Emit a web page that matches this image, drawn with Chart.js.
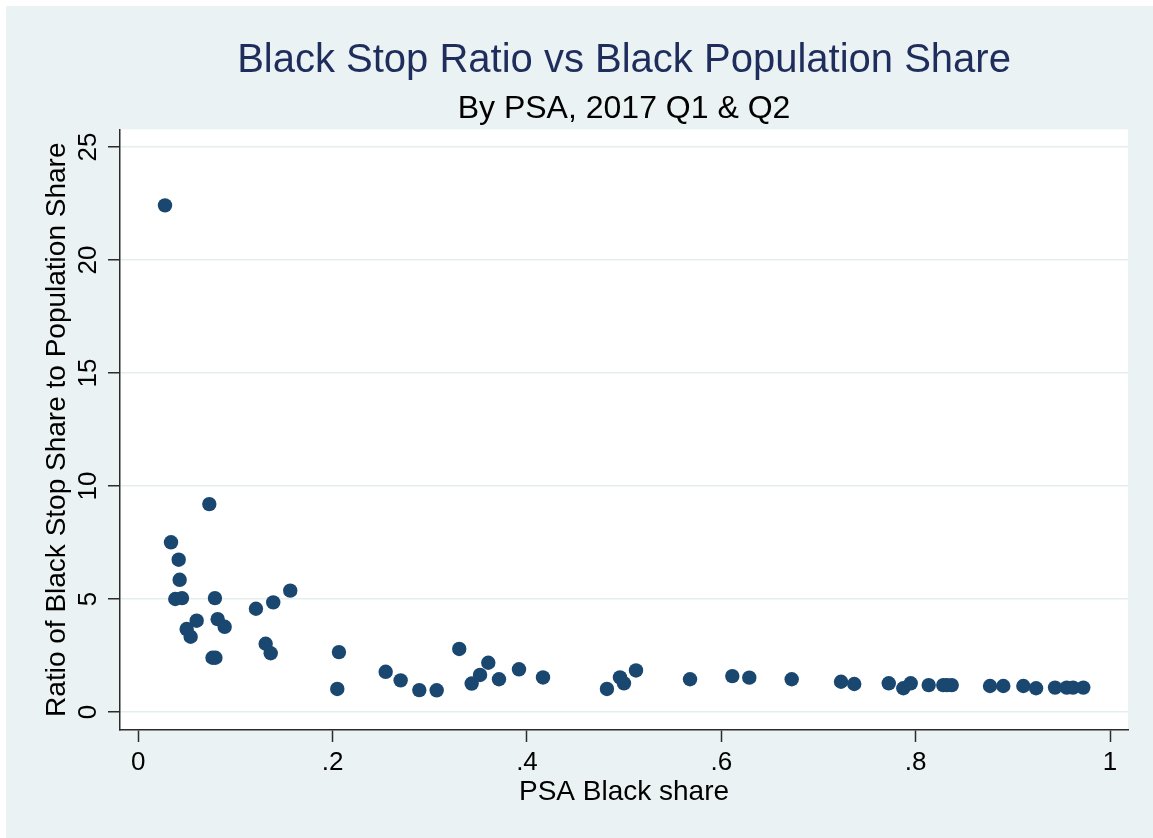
<!DOCTYPE html>
<html>
<head>
<meta charset="utf-8">
<script src="https://cdn.jsdelivr.net/npm/chart.js@4.4.1/dist/chart.umd.min.js"></script>
<style>
  html, body { margin: 0; padding: 0; background: #ffffff; }
  #wrap { width: 1153px; height: 838px; position: relative; }
</style>
</head>
<body>
<div id="wrap"><canvas id="scatterChart"></canvas></div>
<script>
// PSA black population share (x) and black stop ratio (y)
const blackShare = [
    0.0275, 0.0731, 0.0337, 0.0416, 0.0426, 0.0381, 0.0450, 0.0789, 0.0601, 0.0498,
    0.0539, 0.0817, 0.0889, 0.0764, 0.0794, 0.1211, 0.1389, 0.1564, 0.1311, 0.1363,
    0.2065, 0.2048, 0.2546, 0.2700, 0.2892, 0.3071, 0.3303, 0.3431, 0.3517, 0.3602,
    0.3712, 0.3918, 0.4165, 0.4823, 0.4957, 0.4998, 0.5122, 0.5678, 0.6113, 0.6288,
    0.6724, 0.7232, 0.7368, 0.7723, 0.7873, 0.7949, 0.8134, 0.8284, 0.8322, 0.8371,
    0.8765, 0.8902, 0.9108, 0.9239, 0.9434, 0.9554, 0.9619, 0.9725
];
const stopRatio = [
    22.42, 9.20, 7.51, 6.74, 5.85, 5.00, 5.04, 5.04, 4.04, 3.67,
    3.33, 4.11, 3.77, 2.40, 2.40, 4.57, 4.85, 5.37, 3.02, 2.60,
    2.65, 1.02, 1.78, 1.40, 0.97, 0.96, 2.79, 1.26, 1.64, 2.18,
    1.45, 1.89, 1.53, 1.02, 1.53, 1.27, 1.84, 1.45, 1.59, 1.52,
    1.45, 1.34, 1.24, 1.27, 1.05, 1.27, 1.19, 1.19, 1.19, 1.19,
    1.15, 1.15, 1.15, 1.05, 1.08, 1.08, 1.08, 1.08
];
const xTicks = [0, 0.2, 0.4, 0.6, 0.8, 1];
const yTicks = [0, 5, 10, 15, 20, 25];

const navy = '#1a476f';
const bgGray = '#eaf2f3';
const axisColor = '#2b2b2b';

function fmtShare(v) {
    if (v === 0) return '0';
    if (v === 1) return '1';
    return String(Math.round(v * 10) / 10).replace(/^0/, '');
}

// Stata-style backgrounds: gray graph region, white plot region
const backgroundPlugin = {
    id: 'stataBackground',
    beforeDraw(chart) {
        const { ctx, chartArea, width, height } = chart;
        ctx.save();
        ctx.fillStyle = '#ffffff';
        ctx.fillRect(0, 0, width, height);
        ctx.fillStyle = bgGray;
        ctx.fillRect(6, 6, width - 6, height - 6);
        ctx.fillStyle = '#ffffff';
        ctx.fillRect(chartArea.left, chartArea.top, chartArea.right - chartArea.left, chartArea.bottom - chartArea.top);
        ctx.restore();
    }
};

// vertical y tick labels, as Stata draws them
const yLabelPlugin = {
    id: 'rotatedYLabels',
    afterDraw(chart) {
        const { ctx, chartArea } = chart;
        const yScale = chart.scales.y;
        ctx.save();
        ctx.fillStyle = '#000000';
        ctx.font = '26px "Liberation Sans", Arial, sans-serif';
        ctx.textAlign = 'center';
        ctx.textBaseline = 'middle';
        yScale.ticks.forEach(t => {
            const py = yScale.getPixelForValue(t.value);
            ctx.save();
            ctx.translate(chartArea.left - 31, py);
            ctx.rotate(-Math.PI / 2);
            ctx.fillText(String(t.value), 0, 0);
            ctx.restore();
        });
        ctx.restore();
    }
};

const ctx = document.getElementById('scatterChart').getContext('2d');
new Chart(ctx, {
    type: 'scatter',
    data: {
        datasets: [{
            label: 'PSA',
            data: blackShare.map((x, i) => ({ x: x, y: stopRatio[i] })),
            backgroundColor: navy,
            borderColor: navy,
            borderWidth: 0,
            pointRadius: 7.2,
            pointHoverRadius: 7.2
        }]
    },
    options: {
        responsive: true,
        maintainAspectRatio: false,
        animation: false,
        layout: { padding: { left: 0, right: 25, top: 0, bottom: 0 } },
        plugins: {
            legend: { display: false },
            tooltip: { enabled: false },
            title: {
                display: true,
                fullSize: false,
                text: 'Black Stop Ratio vs Black Population Share',
                color: '#1e2d5c',
                font: { family: '"Liberation Sans", Arial, sans-serif', size: 40, weight: 'normal', lineHeight: 1.2 },
                padding: { top: 37, bottom: 5 }
            },
            subtitle: {
                display: true,
                fullSize: false,
                text: 'By PSA, 2017 Q1 & Q2',
                color: '#000000',
                font: { family: '"Liberation Sans", Arial, sans-serif', size: 32, weight: 'normal', lineHeight: 1.2 },
                padding: { top: 0, bottom: 1 }
            }
        },
        scales: {
            x: {
                type: 'linear',
                min: -0.0188,
                max: 1.0185,
                afterBuildTicks: axis => { axis.ticks = xTicks.map(v => ({ value: v })); },
                afterFit: axis => { axis.height = 108; },
                border: { display: true, color: axisColor, width: 1.5 },
                grid: { drawOnChartArea: false, drawTicks: true, tickLength: 12, tickColor: axisColor, tickWidth: 1.5 },
                ticks: {
                    color: '#000000',
                    padding: 5,
                    maxRotation: 0,
                    font: { family: '"Liberation Sans", Arial, sans-serif', size: 26 },
                    callback: v => fmtShare(v)
                },
                title: {
                    display: true,
                    text: 'PSA Black share',
                    color: '#000000',
                    font: { family: '"Liberation Sans", Arial, sans-serif', size: 28, lineHeight: 1.2 },
                    padding: { top: 0, bottom: 29 }
                }
            },
            y: {
                type: 'linear',
                min: -0.796,
                max: 25.78,
                afterBuildTicks: axis => { axis.ticks = yTicks.map(v => ({ value: v })); },
                afterFit: axis => { axis.width = 120; },
                border: { display: true, color: axisColor, width: 1.5 },
                grid: { color: '#e4eef0', lineWidth: 1.5, drawTicks: true, tickLength: 12, tickColor: axisColor, tickWidth: 1.5 },
                ticks: { display: false },
                title: {
                    display: true,
                    text: 'Ratio of Black Stop Share to Population Share',
                    color: '#000000',
                    font: { family: '"Liberation Sans", Arial, sans-serif', size: 28, lineHeight: 1.2 },
                    padding: { top: 40, bottom: 0 }
                }
            }
        }
    },
    plugins: [backgroundPlugin, yLabelPlugin]
});
</script>
</body>
</html>
